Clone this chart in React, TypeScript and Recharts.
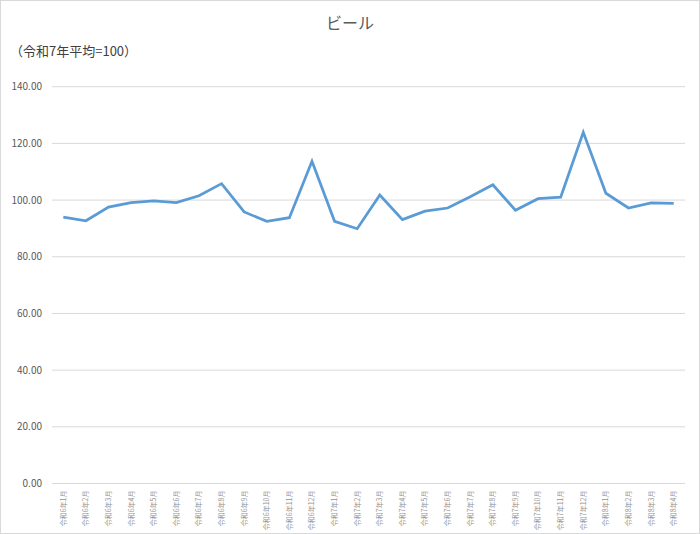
import React from "react";
import { CartesianGrid, Line, LineChart, XAxis, YAxis } from "recharts";

const months = [
  "令和6年1月", "令和6年2月", "令和6年3月", "令和6年4月", "令和6年5月", "令和6年6月",
  "令和6年7月", "令和6年8月", "令和6年9月", "令和6年10月", "令和6年11月", "令和6年12月",
  "令和7年1月", "令和7年2月", "令和7年3月", "令和7年4月", "令和7年5月", "令和7年6月",
  "令和7年7月", "令和7年8月", "令和7年9月", "令和7年10月", "令和7年11月", "令和7年12月",
  "令和8年1月", "令和8年2月", "令和8年3月", "令和8年4月"
];

const beer = [
  94.0, 92.7, 97.5, 99.1, 99.7, 99.1, 101.5, 105.8, 95.8, 92.5, 93.8, 113.7,
  92.5, 89.9, 101.8, 93.1, 96.1, 97.2, 101.2, 105.4, 96.4, 100.5, 101.0, 123.9,
  102.4, 97.2, 99.0, 98.8
];

const yTicks = [0, 20, 40, 60, 80, 100, 120, 140];

const data = months.map((month, i) => ({ month, value: beer[i] }));

const font = "'Noto Sans CJK JP', 'Noto Sans', sans-serif";

function MonthTick({ x, y, payload }: any) {
  const ty = y - 1;
  return (
    <text
      x={x}
      y={ty}
      transform={`rotate(-90, ${x}, ${ty})`}
      textAnchor="end"
      dy="0.35em"
      fontSize={7}
      fill="#949494"
      fontFamily={font}
    >
      {payload.value}
    </text>
  );
}

export default function App() {
  return (
    <div
      style={{
        position: "absolute",
        left: 0,
        top: 0,
        width: 700,
        height: 534,
        boxSizing: "border-box",
        border: "1px solid #d9d9d9",
        background: "#fff",
        fontFamily: font
      }}
    >
      <div
        style={{
          position: "absolute",
          left: 0,
          width: 698,
          top: 9,
          textAlign: "center",
          fontSize: 16,
          color: "#595959"
        }}
      >
        ビール
      </div>
      <div style={{ position: "absolute", left: 9, top: 40, fontSize: 13, color: "#404040" }}>
        （令和7年平均=100）
      </div>
      <LineChart
        width={698}
        height={532}
        data={data}
        margin={{ top: 85.7, right: 14, left: 0, bottom: 0 }}
      >
        <CartesianGrid vertical={false} stroke="#d9d9d9" />
        <XAxis
          dataKey="month"
          interval={0}
          height={49.5}
          padding={{ left: 11.3, right: 11.3 }}
          tick={<MonthTick />}
          tickLine={false}
          axisLine={{ stroke: "#d9d9d9" }}
        />
        <YAxis
          domain={[0, 140]}
          ticks={yTicks}
          width={51}
          tickLine={false}
          axisLine={false}
          tickMargin={4}
          tickFormatter={(v: number) => v.toFixed(2)}
          tick={{ fontSize: 10, fill: "#595959", fontFamily: font }}
        />
        <Line
          type="linear"
          dataKey="value"
          stroke="#5b9bd5"
          strokeWidth={2.75}
          dot={false}
          isAnimationActive={false}
        />
      </LineChart>
    </div>
  );
}
